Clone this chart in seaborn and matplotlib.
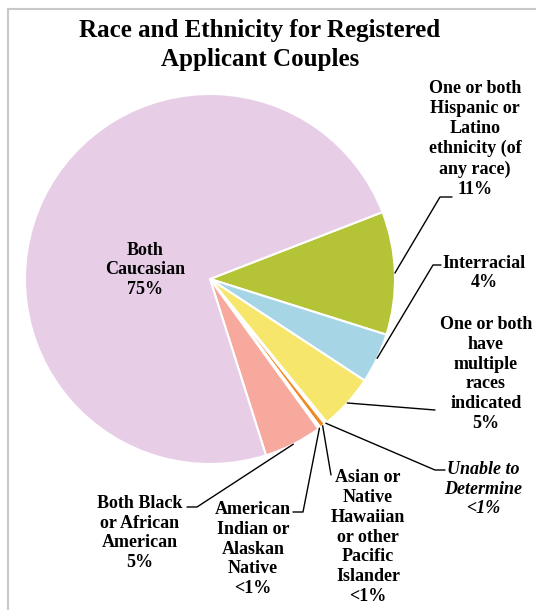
#!/usr/bin/env python3
"""
Pie chart: race and ethnicity for registered applicant couples
"""

import numpy as np
import matplotlib
matplotlib.use("Agg")
import matplotlib.pyplot as plt
import seaborn as sns
from matplotlib.patches import Rectangle

# slices, in clockwise order starting from the Hispanic wedge
categories = [
    "One or both\nHispanic or\nLatino\nethnicity (of\nany race)\n11%",
    "Interracial\n4%",
    "One or both\nhave\nmultiple\nraces\nindicated\n5%",
    "Unable to\nDetermine\n<1%",
    "Asian or\nNative\nHawaiian\nor other\nPacific\nIslander\n<1%",
    "American\nIndian or\nAlaskan\nNative\n<1%",
    "Both Black\nor African\nAmerican\n5%",
    "Both\nCaucasian\n75%",
]
shares = [10.8, 4.4, 4.9, 0.2, 0.5, 0.2, 5.1, 74.3]
colors = ["#B4C436", "#A6D6E6", "#F6E76C", "#F4F4F4", "#F08A24",
          "#FFFFFF", "#F7A99E", "#E8CDE7"]

W, H = 536, 610
CX, CY, R = 210, 279, 185   # pie centre / radius in pixels


def px(x, y):
    """pixel position -> data coords of the pie axes"""
    return (x - CX) / R, (CY - y) / R


sns.set_theme(style="white")
plt.rcParams["font.family"] = ["Liberation Serif", "DejaVu Serif"]
plt.rcParams["text.color"] = "black"

fig = plt.figure(figsize=(W / 100, H / 100), dpi=100)
fig.patch.set_facecolor("white")
ax = fig.add_axes([(CX - R) / W, (H - CY - R) / H, 2 * R / W, 2 * R / H])

wedges, _ = ax.pie(shares, colors=colors, startangle=21.2, counterclock=False,
                   wedgeprops=dict(edgecolor="white", linewidth=1.5))
ax.set_xlim(-1, 1)
ax.set_ylim(-1, 1)
ax.set_aspect("equal")
ax.axis("off")


def anchor(i):
    w = wedges[i]
    mid = np.deg2rad((w.theta1 + w.theta2) / 2)
    return np.cos(mid), np.sin(mid)


# (label centre, leader elbow points) in pixels; None -> no leader
layout = [
    ((475, 139), [(440, 197), (452, 197)]),
    ((484, 273), [(433, 265), (441, 265)]),
    ((486, 374), [(435, 410)]),
    ((483, 489), [(435, 470), (445, 470)]),
    ((368, 537), [(331, 475)]),
    ((253, 549), [(303, 512), (293, 512)]),
    ((140, 533), [(197, 507), (187, 507)]),
    ((145, 270), None),
]

for i, (lab, (pos, elbow)) in enumerate(zip(categories, layout)):
    style = "italic" if i == 3 else "normal"
    ax.text(*px(*pos), lab, ha="center", va="center", fontsize=13,
            fontweight="bold", style=style, linespacing=1.22,
            color="black", clip_on=False)
    if elbow is None:
        continue
    ax0, ay0 = anchor(i)
    pts = [(ax0, ay0)] + [px(*p) for p in elbow]
    xs, ys = zip(*pts)
    ax.plot(xs, ys, color="black", lw=1.0, clip_on=False)

fig.text(260 / W, 1 - 45 / H,
         "Race and Ethnicity for Registered\nApplicant Couples",
         ha="center", va="center", fontsize=18, fontweight="bold",
         linespacing=1.3, color="black")

# light grey frame around the chart area
fig.patches.append(Rectangle((8 / W, -0.1), 2, (H - 9) / H + 0.1,
                             transform=fig.transFigure, fill=False,
                             edgecolor="#C8C8C8", lw=1.5))

fig.savefig("out.png", dpi=100)
